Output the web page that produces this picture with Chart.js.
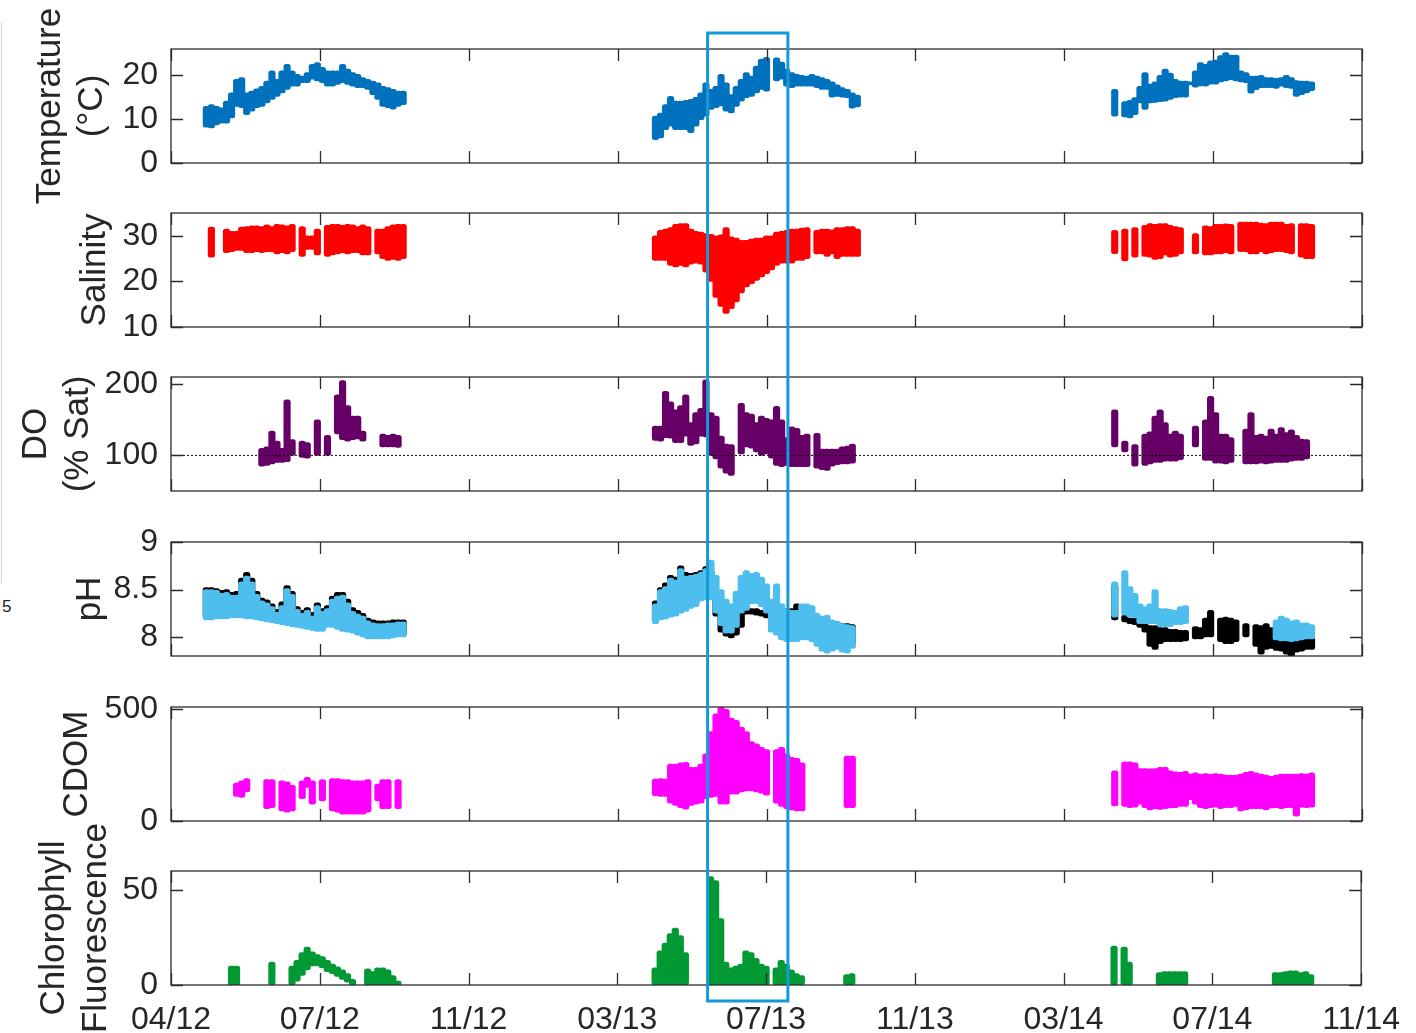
<!DOCTYPE html>
<html><head><meta charset="utf-8">
<script src="https://cdn.jsdelivr.net/npm/chart.js@4/dist/chart.umd.min.js"></script>
<style>
html,body{margin:0;padding:0;background:#fff;}
#wrap{position:relative;width:1416px;height:1033px;overflow:hidden;background:#fff;}
#wrap canvas{position:absolute;left:0;top:0;}
#stray{position:absolute;left:2px;top:597px;font:17px 'Liberation Sans',Arial,sans-serif;color:#222;}
#edge{position:absolute;left:1px;top:22px;width:0;height:561px;border-left:1px solid #d4d4d4;}
</style></head><body><div id="wrap"><div id="edge"></div><div id="stray">5</div></div>
<script>
// ---------- DATA ----------
// x positions are days since 04/2012 (tick spacing 118 days)
const tickDays   = [0,118,236,354,472,590,708,826,944];
const tickLabels = ['04/12','07/12','11/12','03/13','07/13','11/13','03/14','07/14','11/14'];

const days12 = [28,32,36,40,44,48,52,56,60,64,68,72,76,80,84,88,92,96,100,104,108,112,116,120,124,128,132,136,140,144,148,152,156,160,164,168,172,176,180,184];
const days13 = [384,388,392,396,400,404,408,412,416,420,424,428,432,436,440,444,448,452,456,460,464,468,472,476,480,484,488,492,496,500,504,508,512,516,520,524,528,532,536,540,544];
const days14 = [744,748,752,756,760,764,768,772,776,780,784,788,792,796,800,804,808,812,816,820,824,828,832,836,840,844,848,852,856,860,864,868,872,876,880,884,888,892,896,900,904];
const days = [...days12, ...days13, ...days14];

// Temperature (°C): daily range high / low
const tempHi = [
12.9,13.3,12.9,12.6,14.1,16.0,19.1,19.5,16.0,16.4,16.9,17.5,18.7,21.0,19.1,21.0,22.5,21.0,20.2,19.8,20.6,22.5,22.9,21.8,21.0,21.0,21.0,22.5,21.4,20.6,20.2,19.5,19.1,18.7,18.3,17.5,17.2,16.8,16.4,16.4,
10.7,11.4,13.3,15.2,14.1,14.1,14.3,14.5,15.0,16.0,18.3,16.8,17.5,20.2,18.3,15.6,17.5,19.1,20.6,19.8,22.1,23.7,24.1,null,24.0,23.0,21.4,20.6,20.2,20.0,19.8,20.2,19.8,19.5,19.1,18.5,17.8,17.2,16.8,16.0,15.5,
null,16.8,null,14.0,14.3,14.9,17.5,20.6,18.0,18.5,20.0,21.4,20.5,19.1,18.7,18.7,18.5,21.0,22.9,22.5,23.3,23.5,24.5,25.2,24.6,24.6,21.0,20.6,19.8,19.8,20.0,19.5,19.5,19.3,19.5,20.0,19.5,18.8,18.7,18.7,18.5];
const tempLo = [
8.2,8.0,8.7,9.1,9.1,10.3,12.9,12.6,11.0,11.8,12.6,12.9,13.7,14.5,15.2,16.0,16.8,17.5,17.5,18.3,18.3,19.1,18.7,18.3,17.5,17.5,17.9,18.3,17.9,17.5,17.2,17.2,16.8,15.6,14.5,12.9,12.6,12.3,12.9,13.3,
5.3,5.7,7.6,8.4,7.6,7.6,7.6,6.9,8.4,9.9,10.7,12.2,12.6,13.0,11.8,11.4,12.9,14.1,14.9,15.2,16.0,16.8,16.4,null,18.7,19.1,17.5,17.2,17.5,17.5,17.5,17.5,17.2,16.8,16.8,15.0,15.2,15.0,14.9,12.5,12.8,
null,10.7,null,10.5,10.3,11.0,13.7,12.2,13.7,13.8,14.0,14.1,14.5,14.9,15.0,15.0,17.8,17.3,17.6,17.5,18.0,18.0,18.5,18.7,19.0,18.7,18.5,18.3,15.9,16.7,17.2,17.2,17.2,17.0,17.5,17.2,17.0,15.2,15.6,16.0,16.5];

// Salinity
const salHi = [
null,31.9,null,null,31.5,31.0,31.0,31.9,32.0,32.2,32.2,32.0,32.4,32.0,32.5,32.4,32.2,32.5,null,32.0,30.0,30.0,31.5,null,32.3,32.5,32.5,32.3,32.5,32.4,32.0,32.4,32.0,null,31.5,31.5,32.0,32.4,32.5,32.5,
30.0,31.2,31.5,31.8,32.5,32.7,32.7,31.5,31.0,30.8,30.5,30.3,30.0,30.2,31.8,29.8,29.5,29.0,29.0,29.3,29.5,29.5,30.0,30.0,30.8,31.0,31.2,31.5,31.5,31.7,31.8,null,31.2,31.5,31.5,31.3,31.8,31.8,32.0,32.0,31.5,
null,31.2,null,31.5,null,31.8,null,32.3,32.7,32.5,32.7,32.7,32.3,32.0,31.8,null,null,30.5,null,32.2,32.0,32.5,32.5,32.6,32.5,null,33.0,33.0,33.0,33.0,32.8,32.7,33.0,33.0,33.0,32.5,32.7,null,32.7,32.7,32.5];
const salLo = [
null,25.3,null,null,26.3,26.5,26.8,26.8,26.3,26.3,26.5,26.3,26.5,26.5,26.0,26.3,26.0,26.5,null,25.5,27.0,27.0,25.8,null,25.5,25.8,26.0,26.3,26.0,26.3,26.3,25.8,25.8,null,26.0,25.0,24.6,24.8,24.6,25.0,
24.6,24.6,24.6,23.5,23.2,23.5,23.2,23.8,24.0,23.8,22.0,20.0,16.5,14.5,13.0,14.0,15.5,17.5,18.8,19.5,20.2,21.0,21.7,22.5,23.5,24.0,24.0,24.0,24.6,24.6,25.0,null,26.0,26.0,25.5,26.0,25.0,25.5,25.5,25.5,25.5,
null,26.1,null,24.5,null,25.3,null,25.5,25.3,24.8,25.0,25.8,25.3,25.5,26.0,null,null,26.0,null,25.8,25.8,26.0,26.0,26.3,26.0,null,26.5,26.5,26.0,26.0,26.5,26.0,26.3,26.5,26.5,26.3,26.0,null,25.3,25.0,25.0];

// Dissolved oxygen (% saturation)
const doHi = [
null,null,null,null,null,null,null,null,null,null,null,110,112,134,120,110,178,122,null,120,118,null,150,null,128,null,185,205,170,155,155,134,null,null,null,130,128,130,128,null,
141,141,190,175,164,170,185,146,160,166,206,160,155,127,116,115,null,173,160,158,146,155,152,150,169,150,125,140,138,128,130,null,131,109,109,109,109,112,113,116,null,
null,164,null,120,null,115,null,130,133,155,164,146,130,134,130,null,null,141,null,150,183,160,130,130,125,null,null,137,160,128,130,127,137,130,139,132,136,128,123,122,null];
const doLo = [
null,null,null,null,null,null,null,null,null,null,null,85,86,88,90,90,91,100,null,97,96,null,100,null,100,null,130,122,120,122,123,120,null,null,null,112,112,112,111,null,
121,120,125,124,118,118,127,114,116,127,126,100,95,82,75,72,null,102,112,110,105,100,102,96,86,84,86,84,84,84,84,null,82,80,79,85,87,88,88,89,null,
null,112,null,105,null,85,null,86,88,90,90,92,92,92,94,null,null,112,null,93,93,89,89,88,90,null,null,88,88,88,89,88,89,90,90,90,92,93,93,95,null];
const doRef = 100;

// pH, sensor A (black) and sensor B (light blue)
const phBlackHi = [
8.52,8.52,8.51,8.49,8.50,8.47,8.48,8.62,8.68,8.62,8.48,8.41,8.39,8.35,8.29,8.37,8.54,8.48,8.32,8.28,8.31,8.26,8.36,8.30,8.33,8.43,8.47,8.47,8.40,8.31,8.28,8.25,8.20,8.18,8.17,8.17,8.17,8.18,8.18,8.18,
8.38,8.52,8.57,8.65,8.63,8.75,8.68,8.67,8.68,8.70,8.74,8.70,8.48,8.35,8.22,8.20,8.22,8.30,8.32,8.30,8.30,8.28,8.26,8.26,8.25,8.28,8.30,8.30,8.35,8.33,8.30,8.25,8.20,8.18,8.17,8.17,8.16,8.14,8.14,8.13,null,
null,8.55,null,8.23,8.20,8.20,8.15,8.14,8.12,8.12,8.10,8.10,8.08,8.08,8.07,8.07,null,8.11,8.10,8.20,8.28,null,8.20,8.21,8.20,8.18,null,8.14,null,8.13,8.12,8.14,8.10,8.05,8.05,8.03,8.02,8.02,8.00,8.00,8.00];
const phBlackLo = [
8.20,8.20,8.21,8.21,8.21,8.22,8.22,8.22,8.21,8.21,8.20,8.19,8.18,8.17,8.16,8.15,8.14,8.13,8.12,8.11,8.10,8.09,8.08,8.08,8.12,8.12,8.10,8.08,8.07,8.06,8.04,8.02,8.00,8.00,8.00,8.00,8.00,8.01,8.02,8.02,
8.16,8.20,8.21,8.23,8.25,8.27,8.30,8.32,8.35,8.40,8.42,8.40,8.22,8.05,8.01,7.99,8.02,8.10,8.24,8.24,8.23,8.22,8.20,8.12,8.05,8.00,8.00,8.00,8.00,8.00,8.00,7.98,7.95,7.92,7.90,7.90,7.90,7.90,7.90,7.92,null,
null,8.18,null,8.16,8.14,8.13,8.10,8.05,7.90,7.87,7.93,7.95,7.95,7.95,7.95,7.96,null,7.98,7.98,8.00,8.00,null,7.95,7.93,7.93,7.95,null,8.00,null,7.90,7.82,7.87,7.88,7.86,7.85,7.82,7.79,7.84,7.85,7.87,7.87];
const phBlueHi = [
8.50,8.50,8.49,8.46,8.47,8.44,8.44,8.58,8.64,8.58,8.45,8.38,8.36,8.32,8.26,8.33,8.51,8.45,8.29,8.25,8.28,8.22,8.33,8.27,8.30,8.40,8.43,8.44,8.36,8.27,8.24,8.22,8.17,8.15,8.14,8.14,8.15,8.15,8.16,8.16,
8.35,8.50,8.53,8.62,8.60,8.72,8.64,8.65,8.66,8.68,8.72,8.81,8.65,8.50,8.40,8.35,8.48,8.65,8.70,8.67,8.68,8.63,8.56,8.40,8.56,8.35,8.30,8.28,8.28,8.35,8.35,8.33,8.25,8.22,8.23,8.18,8.16,8.14,8.13,8.12,null,
null,8.58,null,8.70,8.53,8.46,8.35,8.32,8.35,8.50,8.30,8.30,8.29,8.28,8.32,8.33,null,null,null,null,null,null,null,null,null,null,null,null,null,null,null,null,null,8.18,8.22,8.20,8.17,8.18,8.15,8.15,8.13];
const phBlueLo = [
8.18,8.18,8.19,8.19,8.19,8.20,8.20,8.20,8.19,8.19,8.18,8.17,8.16,8.15,8.14,8.13,8.12,8.11,8.10,8.09,8.08,8.07,8.06,8.06,8.10,8.10,8.08,8.06,8.05,8.04,8.02,8.00,7.98,7.98,7.98,7.98,7.98,7.99,8.00,8.00,
8.14,8.18,8.19,8.21,8.22,8.25,8.27,8.30,8.32,8.38,8.39,8.39,8.25,8.12,8.04,8.04,8.10,8.25,8.28,8.35,8.35,8.32,8.25,8.05,8.02,7.97,7.95,7.95,7.95,7.97,7.97,7.95,7.90,7.85,7.83,7.85,7.87,7.84,7.83,7.88,null,
null,8.21,null,8.23,8.21,8.20,8.14,8.14,8.14,8.14,8.11,8.11,8.11,8.13,8.13,8.14,null,null,null,null,null,null,null,null,null,null,null,null,null,null,null,null,null,7.97,7.96,7.96,7.95,7.96,7.97,7.98,7.98];

// CDOM
const cdomHi = [
null,null,null,null,null,null,170,180,190,null,null,null,185,185,null,180,175,160,null,180,195,180,null,185,null,190,190,185,185,180,180,180,185,null,165,185,185,null,185,null,
188,190,188,255,255,260,262,240,240,255,300,400,480,510,500,460,450,420,400,355,345,330,320,null,320,330,300,285,280,260,null,null,null,null,null,null,null,null,290,290,null,
null,225,null,265,265,260,235,235,233,235,240,240,225,220,218,222,210,215,210,212,210,212,210,205,205,205,210,218,222,215,210,205,200,205,210,210,210,210,212,210,215];
const cdomLo = [
null,null,null,null,null,null,110,105,130,null,null,null,55,60,null,45,40,45,null,100,150,75,null,90,null,45,40,30,30,30,30,30,40,null,90,55,55,null,55,null,
113,110,110,80,70,60,53,70,75,80,100,105,110,75,75,120,120,130,135,135,130,125,115,null,80,65,55,50,45,45,null,null,null,null,null,null,null,null,60,60,null,
null,68,null,65,60,62,75,60,50,55,52,55,58,60,65,65,95,75,60,55,60,62,55,60,60,65,45,50,55,55,55,50,58,60,55,60,60,22,62,60,62];

// Chlorophyll fluorescence
const chlHi = [
null,null,null,null,null,10,10,null,null,null,null,null,null,12,null,null,null,10,13,17,20,17.5,16,15,13,11,9.5,8,6,3,null,null,8.5,7,9,9,8,5,2,null,
9,18,22,27,30,26,17,null,null,null,null,57,55,35,12,9,10,11,18,17,14,11,10,null,9,13,11,8,6,5,null,null,null,null,null,null,null,null,5.5,6,null,
null,20.5,null,20,12,null,null,null,null,null,6.5,7,7,7,7,7,null,null,null,null,null,null,null,null,null,null,null,null,null,null,null,null,null,6.5,6.5,7,7.5,7.5,6.5,7,5.5];
const chlLo = [
null,null,null,null,null,0,0,null,null,null,null,null,null,0,null,null,null,0,2,5,8,10,10,9,7,6,4.5,3,1.5,0,null,null,0,0,0,0,0,0,0,null,
0,0,0,0,0,0,0,null,null,null,null,0,0,0,0,0,0,0,0,0,0,0,0,null,0,0,0,0,0,0,null,null,null,null,null,null,null,null,0,0,null,
null,0,null,0,0,null,null,null,null,null,0,0,0,0,0,0,null,null,null,null,null,null,null,null,null,null,null,null,null,null,null,null,null,0,0,0,0,0,0,0,0];

// highlighted period (days)
const highlightStart = 425.6, highlightEnd = 489.3;

// ---------- LAYOUT / STYLE ----------
const W = 1416, H = 1033;
const FONT = "'Liberation Sans', Arial, Helvetica, sans-serif";
const TXT = '#262626';
const plotLeft = 171, plotRight = 1362;
const panelTop = [49, 213, 377, 542, 707, 871];
const panelH = 114;
const xAxisH = 48;
const TICK_SIZE = 32, TITLE_SIZE = 35;

function bars(lo, hi, color, order) {
  const data = [];
  for (let i = 0; i < days.length; i++) {
    if (lo[i] != null && hi[i] != null) data.push({x: days[i], y: [lo[i], hi[i]]});
  }
  return {type: 'bar', data, backgroundColor: color, borderWidth: 0, borderSkipped: false,
          borderRadius: 2.5, barThickness: 6.5, grouped: false, order};
}

const panels = [
  {title: ['Temperature', '(°C)'], min: 0, max: 26, ticks: [0, 10, 20], tpad: 29,
   sets: () => [bars(tempLo, tempHi, '#0072BD', 1)]},
  {title: 'Salinity', min: 10, max: 35, ticks: [10, 20, 30], tpad: 74,
   sets: () => [bars(salLo, salHi, '#FF0000', 1)]},
  {title: ['DO', '(% Sat)'], min: 50, max: 210, ticks: [100, 200], tpad: 15,
   sets: () => [bars(doLo, doHi, '#660066', 1),
     {type: 'line', data: [{x: tickDays[0], y: doRef}, {x: tickDays[tickDays.length - 1], y: doRef}],
      borderColor: '#000', borderWidth: 1, borderDash: [2, 2], pointRadius: 0, order: 0}]},
  {title: 'pH', min: 7.8, max: 9.0, ticks: [8, 8.5, 9], tpad: 69,
   sets: () => [bars(phBlackLo, phBlackHi, '#000000', 2), bars(phBlueLo, phBlueHi, '#4DBEEE', 1)]},
  {title: 'CDOM', min: 0, max: 510, ticks: [0, 500], tpad: 56,
   sets: () => [bars(cdomLo, cdomHi, '#FF00FF', 1)]},
  {title: ['Chlorophyll', 'Fluorescence'], min: 0, max: 60, ticks: [0, 50], tpad: 33,
   sets: () => [bars(chlLo, chlHi, '#009933', 1)]}
];

const framePlugin = {
  id: 'frame',
  afterDatasetsDraw(chart) {
    const {ctx, chartArea: {left, right, top, bottom}, scales: {x, y}} = chart;
    ctx.save();
    ctx.strokeStyle = '#2b2b2b';
    ctx.lineWidth = 1.3;
    ctx.strokeRect(left, top, right - left, bottom - top);
    const L = 12;
    ctx.beginPath();
    y.ticks.forEach(t => {
      const py = Math.round(y.getPixelForValue(t.value)) + 0.5;
      ctx.moveTo(left, py); ctx.lineTo(left + L, py);
      ctx.moveTo(right, py); ctx.lineTo(right - L, py);
    });
    x.ticks.forEach(t => {
      const px = Math.round(x.getPixelForValue(t.value)) + 0.5;
      ctx.moveTo(px, bottom); ctx.lineTo(px, bottom - L);
      ctx.moveTo(px, top); ctx.lineTo(px, top + L);
    });
    ctx.stroke();
    ctx.restore();
  }
};

const highlightPlugin = {
  id: 'highlight',
  afterDraw(chart) {
    const x = chart.scales.x;
    const x1 = x.getPixelForValue(highlightStart), x2 = x.getPixelForValue(highlightEnd);
    const y1 = panelTop[0] - 16, y2 = panelTop[5] + panelH + 16;
    const ctx = chart.ctx;
    ctx.save();
    ctx.strokeStyle = '#139BD8';
    ctx.lineWidth = 3;
    ctx.strokeRect(x1, y1, x2 - x1, y2 - y1);
    ctx.restore();
  }
};

const wrap = document.getElementById('wrap');
panels.forEach((p, i) => {
  const isLast = i === panels.length - 1;
  const cv = document.createElement('canvas');
  cv.width = W; cv.height = H;
  cv.style.width = W + 'px'; cv.style.height = H + 'px';
  wrap.appendChild(cv);
  new Chart(cv.getContext('2d'), {
    type: 'bar',
    data: {datasets: p.sets()},
    plugins: isLast ? [framePlugin, highlightPlugin] : [framePlugin],
    options: {
      responsive: false, animation: false, devicePixelRatio: 1, events: [],
      layout: {padding: {left: 0, right: W - plotRight, top: panelTop[i],
        bottom: H - (panelTop[i] + panelH) - (isLast ? xAxisH : 0)}},
      plugins: {legend: {display: false}, tooltip: {enabled: false}},
      scales: {
        x: {
          type: 'linear', min: tickDays[0], max: tickDays[tickDays.length - 1], offset: false,
          grid: {display: false, drawTicks: false}, border: {display: false},
          afterBuildTicks: s => { s.ticks = tickDays.map(v => ({value: v})); },
          afterFit: s => { s.height = isLast ? xAxisH : 0; },
          ticks: {display: isLast, padding: 16, maxRotation: 0, autoSkip: false,
            font: {family: FONT, size: TICK_SIZE}, color: TXT,
            callback: (v, idx) => tickLabels[idx]}
        },
        y: {
          type: 'linear', min: p.min, max: p.max,
          grid: {display: false, drawTicks: false}, border: {display: false},
          afterBuildTicks: s => { s.ticks = p.ticks.map(v => ({value: v})); },
          afterFit: s => { s.width = plotLeft; },
          ticks: {padding: 13, font: {family: FONT, size: TICK_SIZE}, color: TXT, callback: v => String(v)},
          title: {display: true, text: p.title, color: TXT,
            font: {family: FONT, size: TITLE_SIZE, lineHeight: 1.2},
            padding: {top: p.tpad, bottom: 0}}
        }
      }
    }
  });
});
</script></body></html>
